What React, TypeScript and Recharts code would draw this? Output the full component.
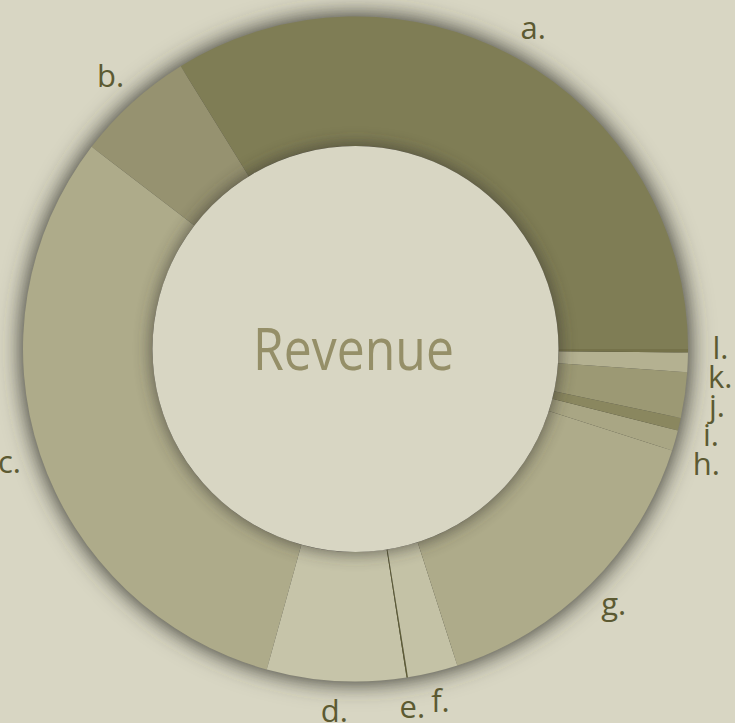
import React from 'react';
import { PieChart, Pie, Cell, Label } from 'recharts';

// ---- data ----
const CATEGORIES = ['a.', 'b.', 'c.', 'd.', 'e.', 'f.', 'g.', 'h.', 'i.', 'j.', 'k.', 'l.'];
const REVENUE = [33.8, 5.78, 31.1, 6.75, 0.07, 2.43, 15.1, 1.0, 0.61, 2.22, 0.94, 0.17];
const SLICE_COLORS = [
  '#7f7d55', '#969270', '#aeab8a', '#c6c4a9', '#5f5d36', '#c4c2a6',
  '#aeab8a', '#a9a684', '#8a875f', '#9c9974', '#b4b191', '#75724a',
];
const CENTER_TITLE = 'Revenue';

// ---- layout / style ----
const W = 735;
const H = 723;
const CX = 355.5;
const CY = 349;
const R_OUT = 332.5;
const R_IN = 203;
const R_LABEL = 365;
const LABEL_GAP = 29;
const BG = '#d8d6c3';
const RAD = Math.PI / 180;

const data = CATEGORIES.map((name, i) => ({ name, value: REVENUE[i] }));
const single = [{ name: 'all', value: 1 }];

// simple overlap avoidance for outside labels (push down)
const LABEL_DY: number[] = (() => {
  const total = REVENUE.reduce((s, v) => s + v, 0);
  let acc = 0;
  const pts = REVENUE.map((v, i) => {
    const mid = ((acc + v / 2) / total) * 360;
    acc += v;
    return {
      i,
      x: CX + R_LABEL * Math.cos(-mid * RAD),
      y: CY + R_LABEL * Math.sin(-mid * RAD),
    };
  });
  const order = [...pts].sort((p, q) => p.y - q.y);
  const placed: { x: number; y: number }[] = [];
  const dy = new Array(REVENUE.length).fill(0);
  for (const p of order) {
    let y = p.y;
    for (const q of placed) {
      if (Math.abs(q.x - p.x) < 20 && y - q.y < LABEL_GAP) y = q.y + LABEL_GAP;
    }
    placed.push({ x: p.x, y });
    dy[p.i] = y - p.y;
  }
  return dy;
})();

const renderLabel = (props: any) => {
  const { cx, cy, midAngle, index } = props;
  const x = cx + R_LABEL * Math.cos(-midAngle * RAD);
  const y = cy + R_LABEL * Math.sin(-midAngle * RAD) + LABEL_DY[index];
  return (
    <text
      key={`lbl-${index}`}
      x={x}
      y={y + 8.5}
      textAnchor="middle"
      fill="#5c5a32"
      fontSize={31}
      fontFamily="'Open Sans', sans-serif"
    >
      {CATEGORIES[index]}
    </text>
  );
};

const renderCenter = (props: any) => {
  const vb = props.viewBox || {};
  const cx = vb.cx ?? CX;
  const cy = vb.cy ?? CY;
  return (
    <text
      x={cx - 2}
      y={cy + 21}
      textAnchor="middle"
      fill="#958f68"
      fontSize={59}
      fontFamily="'Open Sans', sans-serif"
      textLength={201}
      lengthAdjust="spacingAndGlyphs"
    >
      {CENTER_TITLE}
    </text>
  );
};

export default function App() {
  return (
    <div
      style={{
        position: 'absolute',
        left: 0,
        top: 0,
        width: W,
        height: H,
        background: BG,
        overflow: 'hidden',
      }}
    >
      <style>{`
        .outer-shadow { filter: url(#outerBlur); }
        .inner-shadow { filter: url(#innerBlur); opacity: 0.8; }
      `}</style>
      <svg width={0} height={0} style={{ position: 'absolute' }}>
        <defs>
          <filter id="outerBlur" x="-20%" y="-20%" width="140%" height="140%">
            <feGaussianBlur stdDeviation="8" />
          </filter>
          <filter id="innerBlur" x="-20%" y="-20%" width="140%" height="140%">
            <feGaussianBlur stdDeviation="6" />
          </filter>
        </defs>
      </svg>
      <PieChart width={W} height={H} margin={{ top: 0, right: 0, bottom: 0, left: 0 }}>
        <Pie
          data={single}
          dataKey="value"
          cx={CX}
          cy={CY}
          innerRadius={0}
          outerRadius={R_OUT + 2}
          startAngle={0}
          endAngle={360}
          stroke="none"
          fill="#3d3c35"
          className="outer-shadow"
          isAnimationActive={false}
        />
        <Pie
          data={data}
          dataKey="value"
          cx={CX}
          cy={CY}
          innerRadius={R_IN}
          outerRadius={R_OUT}
          startAngle={0}
          endAngle={360}
          stroke="none"
          label={renderLabel}
          labelLine={false}
          isAnimationActive={false}
        >
          {data.map((d, i) => (
            <Cell key={d.name} fill={SLICE_COLORS[i]} />
          ))}
        </Pie>
        <Pie
          data={single}
          dataKey="value"
          cx={CX}
          cy={CY}
          innerRadius={0}
          outerRadius={R_IN + 2}
          startAngle={0}
          endAngle={360}
          stroke="none"
          fill="#3a3930"
          className="inner-shadow"
          isAnimationActive={false}
        />
        <Pie
          data={single}
          dataKey="value"
          cx={CX}
          cy={CY}
          innerRadius={0}
          outerRadius={R_IN}
          startAngle={0}
          endAngle={360}
          stroke="none"
          fill={BG}
          isAnimationActive={false}
        >
          <Label position="center" content={renderCenter} />
        </Pie>
      </PieChart>
    </div>
  );
}
